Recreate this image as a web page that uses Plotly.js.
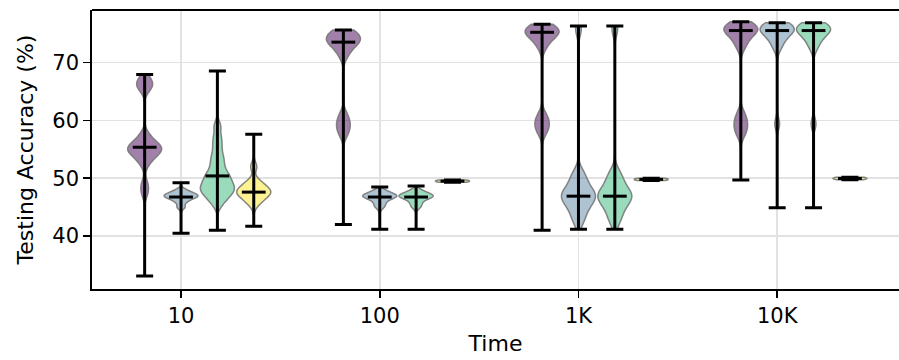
<!DOCTYPE html>
<html><head><meta charset="utf-8">
<script src="https://cdn.plot.ly/plotly-3.0.1.min.js"></script>
<style>html,body{margin:0;padding:0;overflow:hidden;background:#fff}#chart{width:899px;height:360px}</style>
</head><body><div id="chart"></div><script>
// ---- data ----
const timeLabels = ['10', '100', '1K', '10K'];
const seriesNames = ['Series 1', 'Series 2', 'Series 3', 'Series 4'];

// whisker statistics per series (one value per time group)
const minP = [33.1, 42.0, 41.0, 49.7];
const medP = [55.35, 73.5, 75.2, 75.5];
const maxP = [67.9, 75.6, 76.6, 77.0];

const minB = [40.5, 41.2, 41.2, 44.9];
const medB = [46.75, 46.75, 46.9, 75.5];
const maxB = [49.2, 48.5, 76.3, 76.85];

const minG = [41.0, 41.2, 41.2, 44.9];
const medG = [50.4, 46.75, 46.9, 75.5];
const maxG = [68.5, 48.65, 76.3, 76.85];

const minY = [41.7, 49.3, 49.6, 49.75];
const medY = [47.6, 49.5, 49.8, 49.95];
const maxY = [57.6, 49.7, 50.0, 50.15];

// estimated accuracy samples for violin bodies
const P_10  = [47.5, 49.0, 52.5, 53.5, 54, 54.5, 55, 55, 55.2, 55.5, 56, 56.5, 57.5, 65.5, 66, 66.5, 67.5];
const P_100 = [57.5, 58.5, 59.2, 60, 61, 71, 72, 72.8, 73.2, 73.5, 73.7, 74, 74.3, 74.6, 75, 75.3, 75.6];
const P_1K  = [57.8, 58.7, 59.4, 60.1, 61, 72.5, 73.5, 74.2, 74.6, 75, 75.2, 75.4, 75.6, 75.9, 76.2, 76.6];
const P_10K = [57.5, 58.5, 59.3, 60.1, 61.2, 72.5, 73.5, 74.3, 74.9, 75.3, 75.5, 75.7, 76, 76.3, 76.6, 76.9];

const B_10  = [45.0, 45.9, 46.4, 46.7, 46.9, 47.0, 47.2, 47.5, 47.9];
const B_100 = [45.0, 45.6, 46.2, 46.6, 46.8, 46.9, 47.0, 47.2, 47.5, 47.9];
const B_1K  = [42.3, 43.6, 44.6, 45.4, 46.0, 46.5, 46.9, 47.2, 47.6, 48.2, 49.0, 50.0, 51.0, 75.8];
const B_10K = [59.4, 72.5, 73.5, 74.3, 74.9, 75.3, 75.5, 75.7, 76, 76.3, 76.6, 76.8];

const G_10  = [45.5, 46.5, 47, 47.5, 48, 48.2, 48.5, 49, 49.5, 50, 50.5, 51, 52, 53, 54, 55.5, 57, 59];
const G_100 = [45.0, 45.6, 46.2, 46.6, 46.8, 46.9, 47.0, 47.2, 47.5, 47.9];
const G_1K  = [42.3, 43.6, 44.6, 45.4, 46.0, 46.5, 46.9, 47.2, 47.6, 48.2, 49.0, 50.0, 51.0, 75.8];
const G_10K = [59.4, 72.5, 73.5, 74.3, 74.9, 75.3, 75.5, 75.7, 76, 76.3, 76.6, 76.8];

const Y_10  = [45.5, 46.3, 46.8, 47.2, 47.5, 47.7, 48, 48.4, 48.9, 49.5, 52.0];
const Y_100 = [49.4, 49.5, 49.5, 49.6];
const Y_1K  = [49.7, 49.8, 49.8, 49.9];
const Y_10K = [49.85, 49.95, 49.95, 50.05];

// KDE bandwidths
const bwP = [1.0, 1.0, 1.0, 1.0];
const bwB = [0.4, 0.45, 1.2, 1.0];
const bwG = [0.9, 0.45, 1.2, 1.0];
const bwY = [0.8, 0.3, 0.3, 0.3];

// ---- assembly ----
const samples = [[P_10, P_100, P_1K, P_10K], [B_10, B_100, B_1K, B_10K], [G_10, G_100, G_1K, G_10K], [Y_10, Y_100, Y_1K, Y_10K]];
const mins = [minP, minB, minG, minY];
const meds = [medP, medB, medG, medY];
const maxs = [maxP, maxB, maxG, maxY];
const bws = [bwP, bwB, bwG, bwY];

const fills = ['rgba(68,1,84,0.5)', 'rgba(49,104,142,0.4)', 'rgba(53,183,121,0.5)', 'rgba(253,231,37,0.5)'];
const offsets = [-0.183, 0, 0.183, 0.366];
const groups = timeLabels.map((_, i) => i);

const traces = [];
for (let s = 0; s < 4; s++) {
  for (let g = 0; g < 4; g++) {
    traces.push({
      type: 'violin', name: seriesNames[s] + ' ' + timeLabels[g], x0: g + offsets[s], y: samples[s][g],
      bandwidth: bws[s][g], spanmode: 'manual', span: [mins[s][g], maxs[s][g]],
      scalemode: 'width', width: 0.171, points: false,
      box: {visible: false}, meanline: {visible: false},
      fillcolor: fills[s], line: {color: 'rgba(120,120,120,0.9)', width: 1.5},
      showlegend: false, hoverinfo: 'skip'
    });
  }
}
for (let s = 0; s < 4; s++) {
  traces.push({
    type: 'scatter', mode: 'markers', name: seriesNames[s],
    x: groups.map(g => g + offsets[s]), y: meds[s],
    marker: {symbol: 'line-ew', size: 17, color: 'black', line: {width: 3, color: 'black'}},
    error_y: {type: 'data', symmetric: false,
      array: maxs[s].map((v, i) => v - meds[s][i]),
      arrayminus: meds[s].map((v, i) => v - mins[s][i]),
      color: 'black', thickness: 3, width: 8.5},
    showlegend: false
  });
}

const fontFam = 'DejaVu Sans, sans-serif';
const layout = {
  width: 899, height: 360,
  autosize: false,
  showlegend: false,
  margin: {l: 92, r: 0, t: 10, b: 71, pad: 0, autoexpand: false},
  paper_bgcolor: '#fff', plot_bgcolor: '#fff',
  font: {family: fontFam, size: 21, color: '#000'},
  violinmode: 'overlay',
  xaxis: {
    type: 'linear', range: [-0.448, 3.613], automargin: false,
    tickvals: groups, ticktext: timeLabels,
    showgrid: true, gridcolor: '#e2e2e2', gridwidth: 1.5,
    showline: true, linecolor: '#000', linewidth: 1.8, mirror: false,
    ticks: 'outside', ticklen: 7, tickwidth: 1.5, tickcolor: '#000',
    zeroline: false,
    title: {text: 'Time', font: {family: fontFam, size: 22, color: '#000'}, standoff: 8}
  },
  yaxis: {
    range: [30.87, 79.05], automargin: false,
    tickvals: [40, 50, 60, 70],
    showgrid: true, gridcolor: '#e2e2e2', gridwidth: 1.5,
    showline: true, linecolor: '#000', linewidth: 1.8, mirror: false,
    ticks: 'outside', ticklen: 7, tickwidth: 1.5, tickcolor: '#000',
    zeroline: false,
    title: {text: 'Testing Accuracy (%)', font: {family: fontFam, size: 22, color: '#000'}, standoff: 12}
  },
  shapes: [{type: 'line', xref: 'paper', yref: 'paper', x0: 0, x1: 1, y0: 1, y1: 1,
            line: {color: '#000', width: 1.8}}]
};
Plotly.newPlot('chart', traces, layout, {displayModeBar: false, staticPlot: true, responsive: false});
</script></body></html>
